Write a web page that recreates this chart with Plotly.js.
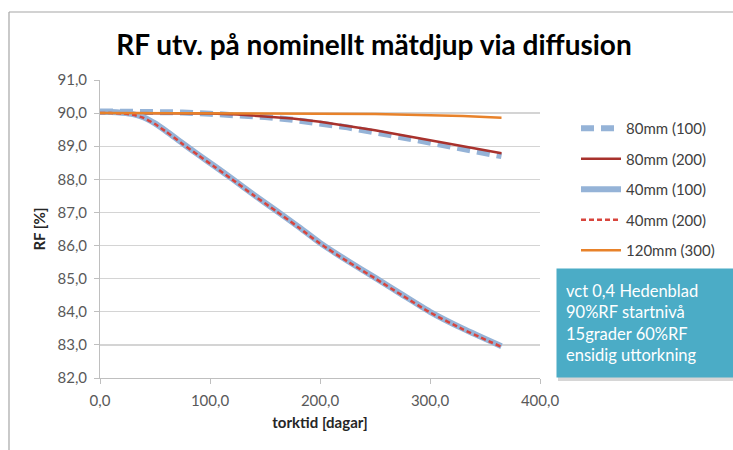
<!DOCTYPE html>
<html>
<head>
<meta charset="utf-8">
<script src="https://cdn.plot.ly/plotly-3.0.1.min.js"></script>
<style>html,body{margin:0;padding:0;background:#fff;}#chart{width:733px;height:450px;}</style>
</head>
<body>
<div id="chart"></div>
<script>
// torktid [dagar]
const days40 = [0, 10, 20, 30, 40, 50, 60, 75, 90, 105, 120, 140, 160, 180, 200, 225, 250, 275, 300, 330, 365];
const rf40mm100 = [90.03, 90.03, 90.01, 89.97, 89.87, 89.69, 89.46, 89.09, 88.73, 88.38, 88.02, 87.53, 87.06, 86.58, 86.08, 85.54, 85.03, 84.51, 84.0, 83.49, 82.96];
const rf40mm200 = [90.0, 90.0, 89.99, 89.95, 89.85, 89.67, 89.44, 89.07, 88.71, 88.36, 88.0, 87.51, 87.04, 86.56, 86.06, 85.52, 85.01, 84.49, 83.98, 83.47, 82.94];

const days80 = [0, 25, 50, 75, 100, 125, 150, 175, 200, 225, 250, 275, 300, 325, 350, 365];
const rf80mm100 = [90.05, 90.05, 90.04, 90.02, 89.98, 89.94, 89.88, 89.8, 89.7, 89.57, 89.42, 89.26, 89.09, 88.93, 88.78, 88.7];
const rf80mm200 = [90.0, 90.0, 90.0, 90.0, 89.99, 89.96, 89.91, 89.84, 89.74, 89.62, 89.48, 89.33, 89.18, 89.02, 88.87, 88.79];

const days120 = [0, 50, 100, 150, 200, 250, 300, 330, 365];
const rf120mm300 = [90.0, 90.0, 90.0, 89.99, 89.98, 89.97, 89.94, 89.91, 89.86];

const seriesNames = ['80mm (100)', '80mm (200)', '40mm (100)', '40mm (200)', '120mm (300)'];
const titleText = 'RF utv. på nominellt mätdjup via diffusion';
const xTitle = 'torktid [dagar]';
const yTitle = 'RF [%]';
const noteLines = ['vct 0,4 Hedenblad', '90%RF startnivå', '15grader 60%RF', 'ensidig uttorkning'];

const FONT = 'Lato, "Open Sans", sans-serif';

const traces = [
  {x: days80, y: rf80mm100, name: seriesNames[0], mode: 'lines', legendgroup: 'a',
   line: {color: '#95B3D7', width: 6, dash: '13px,7px'}},
  {x: days80, y: rf80mm200, name: seriesNames[1], mode: 'lines', legendgroup: 'b',
   line: {color: '#A8322D', width: 2.5}},
  {x: days40, y: rf40mm100, name: seriesNames[2], mode: 'lines', legendgroup: 'c',
   line: {color: '#95B3D7', width: 6, shape: 'spline', smoothing: 0.6}},
  {x: days40, y: rf40mm200, name: seriesNames[3], mode: 'lines', legendgroup: 'd',
   line: {color: '#D8453D', width: 2.5, dash: '5px,3px', shape: 'spline', smoothing: 0.6}},
  {x: days120, y: rf120mm300, name: seriesNames[4], mode: 'lines', legendgroup: 'e',
   line: {color: '#E8822A', width: 2.5}}
];

// pixel -> paper helpers (plot area 100..540 x, 80..378 y)
const px = p => (p - 100) / 440;
const py = p => (378 - p) / 298;

const layout = {
  width: 733, height: 450,
  margin: {l: 100, r: 193, t: 80, b: 72},
  paper_bgcolor: '#fff', plot_bgcolor: '#fff',
  separators: ',.',
  font: {family: FONT, color: '#595959', size: 15},
  title: {text: '<b>' + titleText + '</b>', x: 374 / 733, xanchor: 'center', xref: 'container',
          y: 1 - 45 / 450, yanchor: 'middle', yref: 'container',
          font: {family: FONT, size: 28, color: '#000'}},
  xaxis: {range: [0, 400], dtick: 100, tick0: 0, tickformat: '.1f',
          showgrid: false, zeroline: false, showline: true, linecolor: '#BFBFBF', linewidth: 1,
          ticks: 'outside', ticklen: 5, tickcolor: '#BFBFBF', ticklabelstandoff: 4,
          tickfont: {size: 15, color: '#595959'},
          title: {text: '<b>' + xTitle + '</b>', standoff: 9, font: {size: 15, color: '#262626'}},
          fixedrange: true},
  yaxis: {range: [82, 91], dtick: 1, tick0: 82, tickformat: '.1f',
          showgrid: true, gridcolor: '#D4D4D4', gridwidth: 1.3, zeroline: false,
          showline: true, linecolor: '#BFBFBF', linewidth: 1,
          ticks: 'outside', ticklen: 5, tickcolor: '#BFBFBF', ticklabelstandoff: 4,
          tickfont: {size: 15, color: '#595959'},
          title: {text: '<b>' + yTitle + '</b>', standoff: 8, font: {size: 15, color: '#262626'}},
          fixedrange: true},
  showlegend: true,
  legend: {x: px(576), xanchor: 'left', y: py(112), yanchor: 'top',
           font: {size: 15, color: '#404040', family: FONT},
           tracegroupgap: 8, itemwidth: 40, bgcolor: 'rgba(0,0,0,0)'},
  shapes: [
    {type: 'line', xref: 'paper', yref: 'paper', x0: px(9), x1: px(733), y0: py(12), y1: py(12),
     line: {color: '#A6A6A6', width: 1.2}},
    {type: 'line', xref: 'paper', yref: 'paper', x0: px(9), x1: px(9), y0: py(12), y1: py(450),
     line: {color: '#A6A6A6', width: 1.2}},
    {type: 'rect', xref: 'paper', yref: 'paper', x0: px(558), x1: px(736), y0: py(270), y1: py(381),
     line: {width: 0}, fillcolor: 'rgba(120,120,120,0.3)', layer: 'above'}
  ],
  annotations: [
    {xref: 'paper', yref: 'paper', x: px(556), xanchor: 'left', y: py(268), yanchor: 'top',
     text: noteLines.join('<br>'), align: 'left', showarrow: false,
     bgcolor: '#4BACC6', borderpad: 9, width: 162, height: 90, valign: 'middle',
     font: {family: FONT, size: 16.5, color: '#fff'}}
  ]
};

Plotly.newPlot('chart', traces, layout, {displayModeBar: false, staticPlot: true});
</script>
</body>
</html>
